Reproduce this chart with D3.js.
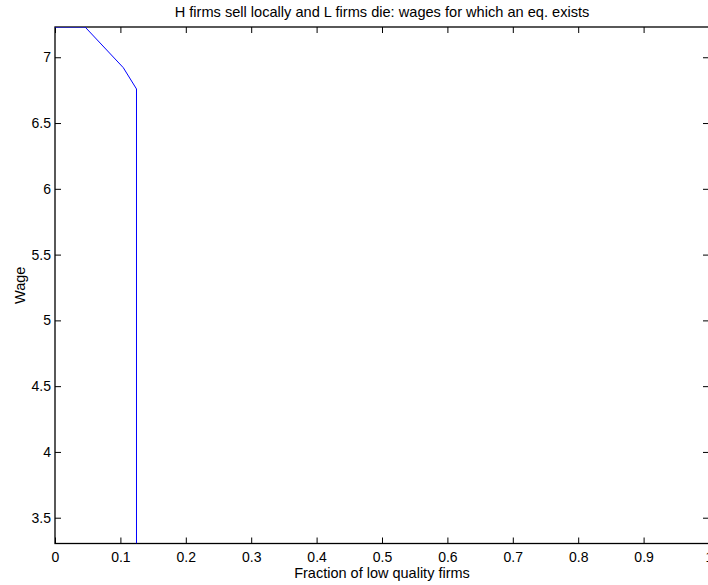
<!DOCTYPE html>
<html>
<head>
<meta charset="utf-8">
<script src="https://cdn.jsdelivr.net/npm/d3@7"></script>
<style>
  body { margin: 0; background: white; }
  svg { display: block; font-family: "Liberation Sans", Arial, sans-serif; }
</style>
</head>
<body>
<svg></svg>
<script>
// wage curve
const fraction = [0, 0.046, 0.1044, 0.1246, 0.1246];
const wage = [7.23, 7.23, 6.921, 6.759, 3.304];
const xTicks = [0, 0.1, 0.2, 0.3, 0.4, 0.5, 0.6, 0.7, 0.8, 0.9, 1];
const yTicks = [3.5, 4, 4.5, 5, 5.5, 6, 6.5, 7];
const yDomain = [3.304, 7.23];

const margin = { top: 27, right: -1, bottom: 41.5, left: 55 };
const W = 708, H = 585;
const width = W - margin.left - margin.right;
const height = H - margin.top - margin.bottom;

const svg = d3.select("svg")
  .attr("width", W)
  .attr("height", H);

const chart = svg.append("g")
  .attr("transform", `translate(${margin.left},${margin.top})`);

const x = d3.scaleLinear().domain([0, 1]).range([0, width]);
const y = d3.scaleLinear().domain(yDomain).range([height, 0]);

const tickLen = 6;

// ticks pointing inwards, matlab style
const xAxis = chart.append("g")
  .attr("transform", `translate(0,${height})`)
  .call(d3.axisBottom(x).tickValues(xTicks).tickSizeInner(-tickLen).tickSizeOuter(0).tickPadding(8.5)
    .tickFormat(d => d3.format("")(d)));
xAxis.select(".domain").remove();
xAxis.selectAll("text").style("font-size", "14px").attr("fill", "#000");

const xTop = chart.append("g")
  .call(d3.axisTop(x).tickValues(xTicks).tickSizeInner(-tickLen).tickSizeOuter(0).tickFormat(""));
xTop.select(".domain").remove();

const yAxis = chart.append("g")
  .call(d3.axisLeft(y).tickValues(yTicks).tickSizeInner(-tickLen).tickSizeOuter(0).tickPadding(4)
    .tickFormat(d => d3.format("")(d)));
yAxis.select(".domain").remove();
yAxis.selectAll("text").style("font-size", "14px").attr("fill", "#000");

const yRight = chart.append("g")
  .attr("transform", `translate(${width},0)`)
  .call(d3.axisRight(y).tickValues(yTicks).tickSizeInner(-tickLen).tickSizeOuter(0).tickFormat(""));
yRight.select(".domain").remove();

chart.selectAll(".tick line").attr("stroke", "#000");

// box
chart.append("rect")
  .attr("x", 0).attr("y", 0)
  .attr("width", width).attr("height", height)
  .attr("fill", "none")
  .attr("stroke", "#000")
  .attr("stroke-width", 1.3);

chart.append("defs").append("clipPath").attr("id", "clip")
  .append("rect").attr("width", width).attr("height", height);

const line = d3.line()
  .x((d, i) => x(fraction[i]))
  .y((d, i) => y(wage[i]));

chart.append("path")
  .datum(fraction)
  .attr("clip-path", "url(#clip)")
  .attr("d", line)
  .attr("fill", "none")
  .attr("stroke", "#0000ff")
  .attr("stroke-width", 1);

svg.append("text")
  .attr("x", margin.left + width / 2)
  .attr("y", 17)
  .attr("text-anchor", "middle")
  .style("font-size", "14.6px")
  .text("H firms sell locally and L firms die: wages for which an eq. exists");

svg.append("text")
  .attr("x", margin.left + width / 2)
  .attr("y", 578)
  .attr("text-anchor", "middle")
  .style("font-size", "14.5px")
  .text("Fraction of low quality firms");

svg.append("text")
  .attr("transform", "rotate(-90)")
  .attr("x", -(margin.top + height / 2))
  .attr("y", 24.5)
  .attr("text-anchor", "middle")
  .style("font-size", "14.5px")
  .text("Wage");
</script>
</body>
</html>
